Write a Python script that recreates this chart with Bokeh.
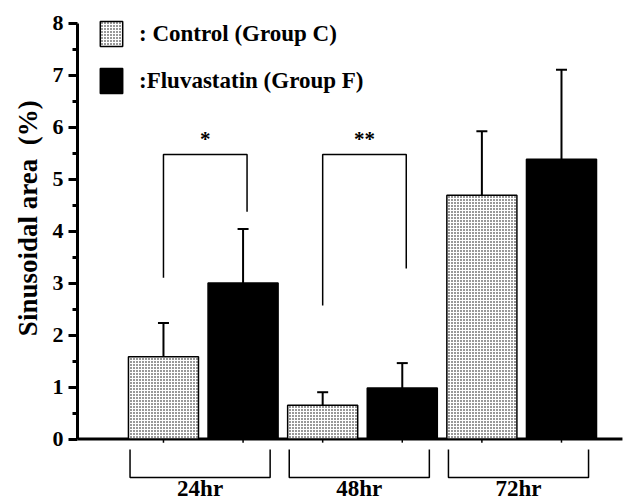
from bokeh.plotting import figure
from bokeh.models import (Range1d, FixedTicker, Whisker, TeeHead, Legend,
                          LegendItem, ColumnDataSource)
from bokeh.core.properties import value
from bokeh.embed import file_html
from bokeh.resources import INLINE

# ---------------- data ----------------
groups = ["24hr", "48hr", "72hr"]
control_mean = [1.58, 0.65, 4.69]
control_err = [0.65, 0.25, 1.23]
fluva_mean = [3.00, 0.98, 5.38]
fluva_err = [1.04, 0.48, 1.72]
y_ticks = [0, 1, 2, 3, 4, 5, 6, 7, 8]
y_minor = [0.5, 1.5, 2.5, 3.5, 4.5, 5.5, 6.5, 7.5]
sig_groups = [0, 1]
sig_labels = ["*", "**"]
sig_top = [5.47, 5.47]
sig_left_end = [3.10, 2.57]
sig_right_end = [4.37, 3.28]
legend_labels = [": Control (Group C)", ":Fluvastatin (Group F)"]
y_label = "Sinusoidal area\u00a0 (%)"

FONT = "Liberation Serif"

# positions: two bars per group, evenly spaced
xc = [2 * i for i in range(len(groups))]
xf = [2 * i + 1 for i in range(len(groups))]
bar_w = 0.88
X0, X1 = -1.08, 5.867
X_LINE_END = 5.766

p = figure(width=630, height=503, x_range=Range1d(X0, X1),
           y_range=Range1d(-1.240, 8.433), output_backend="svg",
           toolbar_location=None, x_axis_location=None, y_axis_location="left",
           min_border_left=77, min_border_right=0, min_border_top=0,
           min_border_bottom=0)
p.outline_line_color = None
p.grid.visible = False
p.background_fill_color = "white"

# y axis
ax = p.yaxis[0]
ax.ticker = FixedTicker(ticks=y_ticks, minor_ticks=y_minor)
ax.bounds = (0, 8)
ax.axis_line_width = 3
ax.axis_line_color = "black"
ax.major_tick_line_width = 3
ax.minor_tick_line_width = 3
ax.major_tick_line_color = "black"
ax.minor_tick_line_color = "black"
ax.major_tick_out = 9
ax.major_tick_in = 0
ax.minor_tick_out = 5
ax.minor_tick_in = 0
ax.major_label_text_font = FONT
ax.major_label_text_font_style = "bold"
ax.major_label_text_font_size = "22px"
ax.major_label_text_color = "black"
ax.major_label_standoff = 5
ax.axis_label = "\u00a0" * 10 + y_label
ax.axis_label_text_font = FONT
ax.axis_label_text_font_style = "bold"
ax.axis_label_text_font_size = "27px"
ax.axis_label_text_color = "black"
ax.axis_label_standoff = 7

# baseline (x axis line)
p.segment(x0=[X0], y0=[0], x1=[X_LINE_END], y1=[0], line_color="black", line_width=3)

src_c = ColumnDataSource(dict(x=xc, top=control_mean,
                              upper=[m + e for m, e in zip(control_mean, control_err)]))
src_f = ColumnDataSource(dict(x=xf, top=fluva_mean,
                              upper=[m + e for m, e in zip(fluva_mean, fluva_err)]))

# error bars (upward only)
for src in (src_c, src_f):
    w = Whisker(source=src, base="x", lower="top", upper="upper",
                line_width=2, line_color="black",
                upper_head=TeeHead(size=11, line_width=2, line_color="black"),
                lower_head=None, level="underlay")
    p.add_layout(w)

rc = p.vbar(x="x", top="top", width=bar_w, bottom=0, source=src_c,
            fill_color="white", line_color="black", line_width=1.5,
            hatch_pattern="dot", hatch_scale=3, hatch_color="black",
            hatch_weight=1)
rf = p.vbar(x="x", top="top", width=bar_w, bottom=0, source=src_f,
            fill_color="black", line_color="black", line_width=1.5)

# small ticks below baseline at bar centres
all_x = xc + xf
p.segment(x0=all_x, y0=[0] * len(all_x), x1=all_x, y1=[-0.07] * len(all_x),
          line_color="black", line_width=1.5)

# significance brackets
sxs, sys_ = [], []
sx_lab = []
for g, top, le, re in zip(sig_groups, sig_top, sig_left_end, sig_right_end):
    l = xc[g]
    r = xf[g] + 0.05
    sxs.append([l, l, r, r])
    sys_.append([le, top, top, re])
    sx_lab.append((l + r) / 2)
p.multi_line(xs=sxs, ys=sys_, line_color="black", line_width=1.5)
p.text(x=sx_lab, y=[t + 0.3 for t in sig_top], text=sig_labels,
       text_font=value(FONT), text_font_style="bold", text_font_size="21px",
       text_align="center", text_baseline="middle", text_color="black")

# group brackets below the axis
bxs, bys, bcx = [], [], []
for i in range(len(groups)):
    l = xc[i] - 0.42
    r = xf[i] + 0.34
    bxs.append([l, l, r, r])
    bys.append([-0.2, -0.74, -0.74, -0.2])
    bcx.append((l + r) / 2)
p.multi_line(xs=bxs, ys=bys, line_color="black", line_width=1.5)
p.text(x=bcx, y=[-0.95] * len(groups), text=groups,
       text_font=value(FONT), text_font_style="bold", text_font_size="23px",
       text_align="center", text_baseline="middle", text_color="black")

# legend
legend = Legend(items=[LegendItem(label=legend_labels[0], renderers=[rc]),
                       LegendItem(label=legend_labels[1], renderers=[rf])],
                location=(20, 407), padding=0, margin=0, spacing=16,
                glyph_width=28, glyph_height=31, label_standoff=14,
                label_text_font=FONT, label_text_font_style="bold",
                label_text_font_size="23px", label_text_color="black",
                border_line_alpha=0, background_fill_alpha=0)
p.add_layout(legend)

open("out.html", "w").write(file_html(p, INLINE))
